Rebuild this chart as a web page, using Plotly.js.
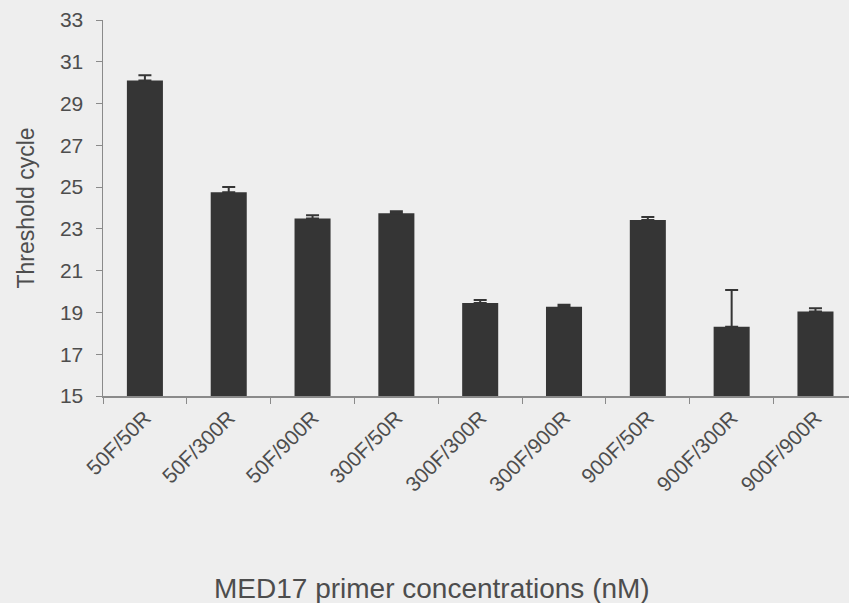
<!DOCTYPE html>
<html>
<head>
<meta charset="utf-8">
<script src="https://cdn.plot.ly/plotly-3.0.1.min.js"></script>
<style>
  html, body { margin: 0; padding: 0; background: #eeeeee; }
  #chart { width: 849px; height: 603px; }
</style>
</head>
<body>
<div id="chart"></div>
<script>
// Primer pair combinations (forward / reverse, nM)
const primerPairs = ['50F/50R', '50F/300R', '50F/900R', '300F/50R', '300F/300R',
                     '300F/900R', '900F/50R', '900F/300R', '900F/900R'];
// Mean threshold cycle for each pair
const thresholdCycle = [30.1, 24.75, 23.5, 23.75, 19.45, 19.27, 23.42, 18.32, 19.04];
// Upper error (standard deviation)
const cycleError = [0.25, 0.25, 0.15, 0.1, 0.15, 0.1, 0.15, 1.75, 0.16];
const yTicks = [15, 17, 19, 21, 23, 25, 27, 29, 31, 33];

const textColor = '#4d4d4d';
const axisColor = '#8a8a8a';
const barColor = '#353535';
const fontFamily = '"Liberation Sans", Arial, sans-serif';

const trace = {
  type: 'bar',
  x: primerPairs,
  y: thresholdCycle,
  base: 0,
  width: 0.43,
  marker: { color: barColor, line: { width: 0 } },
  error_y: {
    type: 'data',
    symmetric: false,
    array: cycleError,
    arrayminus: cycleError.map(() => 0),
    color: barColor,
    thickness: 2,
    width: 6.5
  },
  hoverinfo: 'x+y'
};

const layout = {
  width: 849,
  height: 603,
  margin: { l: 103, r: 0, t: 20, b: 207 },
  paper_bgcolor: '#eeeeee',
  plot_bgcolor: '#eeeeee',
  showlegend: false,
  font: { family: fontFamily, color: textColor },
  xaxis: {
    type: 'category',
    range: [-0.5, 8.4],
    showline: true,
    linecolor: axisColor,
    linewidth: 1.5,
    ticks: 'outside',
    tickson: 'boundaries',
    ticklen: 6,
    tickcolor: axisColor,
    tickangle: -45,
    tickfont: { size: 21, color: textColor },
    showgrid: false,
    zeroline: false,
    automargin: false
  },
  yaxis: {
    range: [15, 33],
    tickvals: yTicks,
    ticktext: yTicks.map(String),
    showline: true,
    linecolor: axisColor,
    linewidth: 1.5,
    ticks: 'outside',
    ticklen: 6,
    tickcolor: axisColor,
    ticklabelstandoff: 8,
    tickfont: { size: 21, color: textColor },
    showgrid: false,
    zeroline: false,
    automargin: false,
    title: {
      text: 'Threshold cycle',
      font: { size: 23, color: textColor },
      standoff: 19
    }
  },
  annotations: [{
    text: 'MED17 primer concentrations (nM)',
    xref: 'paper', yref: 'paper',
    x: 0.441, y: -0.511,
    xanchor: 'center', yanchor: 'middle',
    showarrow: false,
    font: { size: 28, color: textColor }
  }]
};

Plotly.newPlot('chart', [trace], layout, { staticPlot: true, displayModeBar: false });
</script>
</body>
</html>
